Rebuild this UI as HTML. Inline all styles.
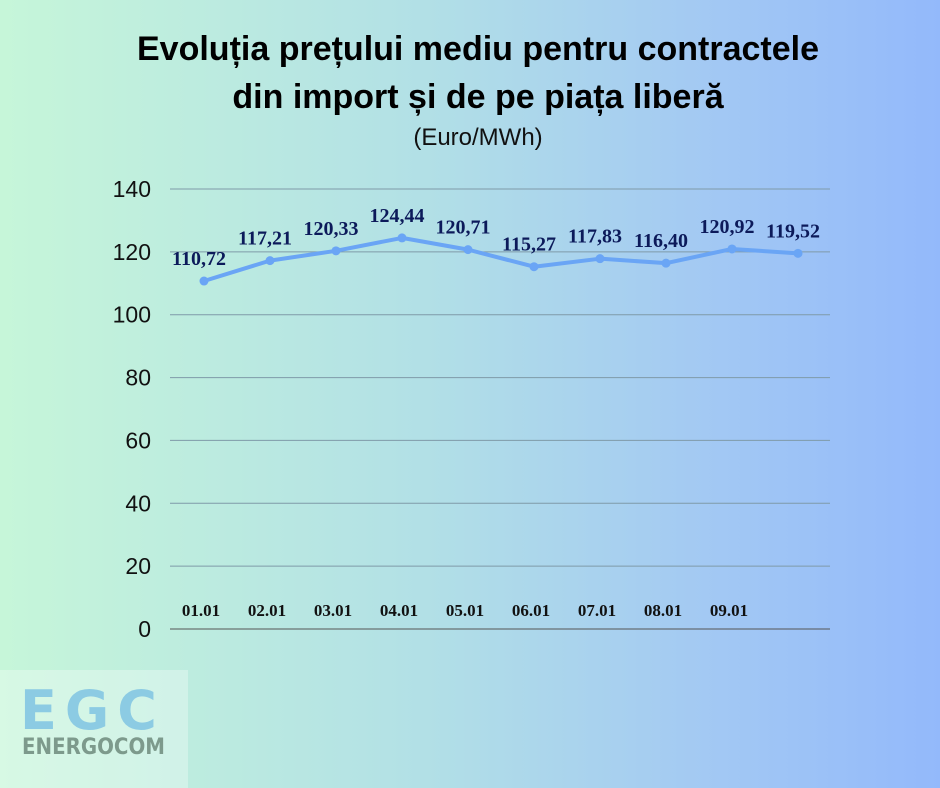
<!DOCTYPE html>
<html><head><meta charset="utf-8"><style>
body{margin:0;width:940px;height:788px;overflow:hidden;background:linear-gradient(90deg,#c6f6d9 0%,#b2e0e6 45%,#a3c9f3 75%,#93b9fb 100%);font-family:"Liberation Sans",sans-serif;position:relative}
.t{position:absolute;left:0;width:956px;text-align:center;font-weight:bold;font-size:34px;color:#000}
</style></head><body>
<div class="t" style="top:25px;line-height:48px">Evoluția prețului mediu pentru contractele<br>din import și de pe piața liberă</div>
<div style="position:absolute;top:124px;left:0;width:956px;text-align:center;font-size:24px;color:#111">(Euro/MWh)</div>
<svg id="c" width="940" height="788" style="position:absolute;left:0;top:0"></svg>
<div style="position:absolute;left:0;top:670px;width:188px;height:118px;background:rgba(255,255,255,0.3)">
<div style="position:absolute;left:20px;top:14px;font-size:54px;font-weight:bold;letter-spacing:8px;color:#8ccbe3;font-family:'DejaVu Sans',sans-serif;line-height:54px">EGC</div>
<div style="position:absolute;left:22px;top:65px;font-size:22px;font-weight:bold;color:#7d9a8c;font-family:'DejaVu Sans Condensed','DejaVu Sans',sans-serif">ENERGOCOM</div>
</div>
<script>
const categories=["01.01","02.01","03.01","04.01","05.01","06.01","07.01","08.01","09.01",""];
const values=[110.72,117.21,120.33,124.44,120.71,115.27,117.83,116.40,120.92,119.52];
const valueLabels=["110,72","117,21","120,33","124,44","120,71","115,27","117,83","116,40","120,92","119,52"];
const yTicks=[0,20,40,60,80,100,120,140];
const svg=document.getElementById('c');const NS='http://www.w3.org/2000/svg';
const y=v=>629-v*(440/140);const x=i=>204+i*66;
function mk(t,a){const e=document.createElementNS(NS,t);for(const k in a)e.setAttribute(k,a[k]);svg.appendChild(e);return e;}
yTicks.forEach(v=>{
const l=mk('line',{x1:170,x2:830,y1:y(v),y2:y(v),stroke:v===0?'#555':'#7f9aa8','stroke-width':1});


const t=mk('text',{x:151,y:y(v)+8,'text-anchor':'end','font-size':23,fill:'#111','font-family':'Liberation Sans'});t.textContent=v;


});
const p=mk('polyline',{points:values.map((v,i)=>x(i)+','+y(v)).join(' '),fill:'none',stroke:'#6aa5f5','stroke-width':4,'stroke-linejoin':'round'});


values.forEach((v,i)=>{
const c=mk('circle',{cx:x(i),cy:y(v),r:4.5,fill:'#6aa5f5'});


const t=mk('text',{x:x(i)-5,y:y(v)-16,'text-anchor':'middle','font-size':20,'font-weight':'bold',fill:'#0c1a5a','font-family':'Liberation Serif'});t.textContent=valueLabels[i];


const c2=mk('text',{x:x(i)-3,y:616,'text-anchor':'middle','font-size':17,'font-weight':'bold',fill:'#111','font-family':'Liberation Serif'});c2.textContent=categories[i];


});
</script>
</body></html>
